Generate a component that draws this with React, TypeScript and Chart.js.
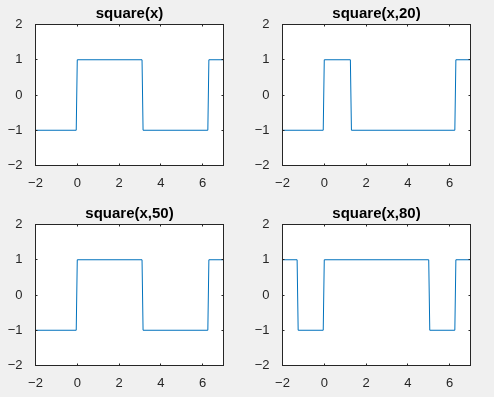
import React, { useEffect, useRef } from 'react';
import { Chart, registerables } from 'chart.js';

Chart.register(...registerables);

// Tick values and labels (MATLAB uses a true minus sign)
const xTicks = [-2, 0, 2, 4, 6];
const xTickLabels = ['\u22122', '0', '2', '4', '6'];
const yTicks = [-2, -1, 0, 1, 2];
const yTickLabels = ['\u22122', '\u22121', '0', '1', '2'];

// Titles
const titles = ['square(x)', 'square(x,20)', 'square(x,50)', 'square(x,80)'];

// Series (vertices of the sampled square waves)
const sqX = [-2, -0.05, 0, 3.1, 3.15, 6.25, 6.3, 7];
const sqY = [-1, -1, 1, 1, -1, -1, 1, 1];

const sq20X = [-2, -0.05, 0, 1.25, 1.3, 6.25, 6.3, 7];
const sq20Y = [-1, -1, 1, 1, -1, -1, 1, 1];

const sq50X = [-2, -0.05, 0, 3.1, 3.15, 6.25, 6.3, 7];
const sq50Y = [-1, -1, 1, 1, -1, -1, 1, 1];

const sq80X = [-2, -1.3, -1.25, -0.05, 0, 5.0, 5.05, 6.25, 6.3, 7];
const sq80Y = [1, 1, -1, -1, 1, 1, -1, -1, 1, 1];

const FONT = 'Arial, "Liberation Sans", Helvetica, sans-serif';
const AXIS_COLOR = '#262626';
const LINE_COLOR = '#0072BD';

const CANVAS_W = 247;
const CANVAS_H = 197;

const boxPlugin = {
  id: 'matlabBox',
  beforeDraw(chart: any) {
    const { ctx, chartArea } = chart;
    const { left, top, right, bottom } = chartArea;
    ctx.save();
    ctx.fillStyle = '#ffffff';
    ctx.fillRect(left, top, right - left, bottom - top);
    ctx.restore();
  },
  afterDraw(chart: any) {
    const { ctx, chartArea, scales } = chart;
    const { left, top, right, bottom } = chartArea;
    const tl = 2;
    ctx.save();
    ctx.strokeStyle = AXIS_COLOR;
    ctx.lineWidth = 1;
    ctx.strokeRect(left, top, right - left, bottom - top);
    ctx.beginPath();
    for (const v of xTicks) {
      const p = Math.round(scales.x.getPixelForValue(v) - 0.5) + 0.5;
      ctx.moveTo(p, bottom);
      ctx.lineTo(p, bottom - tl);
      ctx.moveTo(p, top);
      ctx.lineTo(p, top + tl);
    }
    for (const v of yTicks) {
      const p = Math.round(scales.y.getPixelForValue(v) - 0.5) + 0.5;
      ctx.moveTo(left, p);
      ctx.lineTo(left + tl, p);
      ctx.moveTo(right, p);
      ctx.lineTo(right - tl, p);
    }
    ctx.stroke();
    ctx.restore();
  },
};

type SubProps = { title: string; xs: number[]; ys: number[]; left: number; top: number };

function Subplot({ title, xs, ys, left, top }: SubProps) {
  const ref = useRef<HTMLCanvasElement | null>(null);
  useEffect(() => {
    if (!ref.current) return;
    const chart = new Chart(ref.current, {
      type: 'line',
      data: {
        datasets: [
          {
            data: xs.map((x, i) => ({ x, y: ys[i] })),
            borderColor: LINE_COLOR,
            borderWidth: 1,
            pointRadius: 0,
            tension: 0,
            fill: false,
          },
        ],
      },
      options: {
        animation: false,
        responsive: false,
        maintainAspectRatio: false,
        events: [],
        layout: { padding: { left: 0, right: 23.5, top: 0, bottom: 0 } },
        plugins: {
          legend: { display: false },
          tooltip: { enabled: false },
          title: {
            display: true,
            text: title,
            fullSize: false,
            color: '#000000',
            font: { family: FONT, size: 15, weight: 'bold', lineHeight: 1.2 },
            padding: { top: 5, bottom: 1.5 },
          },
        },
        scales: {
          x: {
            type: 'linear',
            min: -2,
            max: 7,
            grid: { display: false },
            border: { display: false },
            afterBuildTicks: (s: any) => {
              s.ticks = xTicks.map((v) => ({ value: v }));
            },
            afterFit: (s: any) => {
              s.height = 31.5;
            },
            ticks: {
              padding: 2,
              color: AXIS_COLOR,
              font: { family: FONT, size: 13 },
              maxRotation: 0,
              autoSkip: false,
              callback: (v: any) => {
                const i = xTicks.indexOf(Number(v));
                return i >= 0 ? xTickLabels[i] : '';
              },
            },
          },
          y: {
            type: 'linear',
            min: -2,
            max: 2,
            grid: { display: false },
            border: { display: false },
            afterBuildTicks: (s: any) => {
              s.ticks = yTicks.map((v) => ({ value: v }));
            },
            afterFit: (s: any) => {
              s.width = 35.5;
            },
            ticks: {
              padding: 5,
              color: AXIS_COLOR,
              font: { family: FONT, size: 13 },
              autoSkip: false,
              callback: (v: any) => {
                const i = yTicks.indexOf(Number(v));
                return i >= 0 ? yTickLabels[i] : '';
              },
            },
          },
        },
      } as any,
      plugins: [boxPlugin],
    });
    return () => chart.destroy();
  }, [title, xs, ys]);
  return (
    <canvas
      ref={ref}
      width={CANVAS_W}
      height={CANVAS_H}
      style={{ position: 'absolute', left, top, width: CANVAS_W, height: CANVAS_H }}
    />
  );
}

export default function App() {
  return (
    <div
      style={{
        position: 'fixed',
        left: 0,
        top: 0,
        width: 494,
        height: 397,
        background: '#f0f0f0',
        overflow: 'hidden',
      }}
    >
      <Subplot title={titles[0]} xs={sqX} ys={sqY} left={0} top={0} />
      <Subplot title={titles[1]} xs={sq20X} ys={sq20Y} left={247} top={0} />
      <Subplot title={titles[2]} xs={sq50X} ys={sq50Y} left={0} top={200} />
      <Subplot title={titles[3]} xs={sq80X} ys={sq80Y} left={247} top={200} />
    </div>
  );
}
